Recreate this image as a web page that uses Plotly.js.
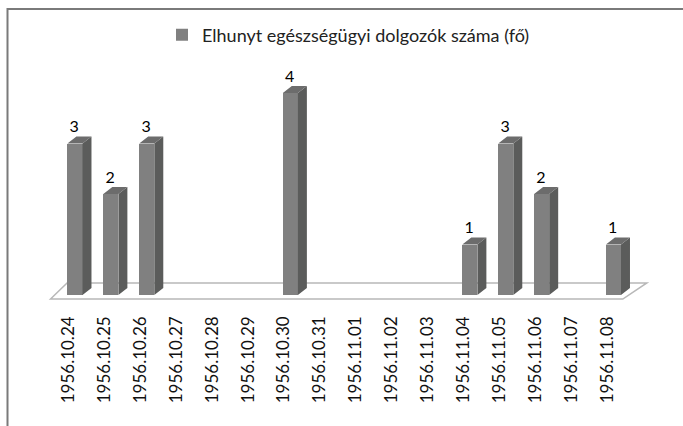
<!DOCTYPE html>
<html>
<head>
<meta charset="utf-8">
<script src="https://cdn.plot.ly/plotly-3.0.1.min.js"></script>
<style>html,body{margin:0;padding:0;background:#fff;}#chart{width:683px;height:426px;}</style>
</head>
<body>
<div id="chart"></div>
<script>
// ---- data ----
const dates = ["1956.10.24","1956.10.25","1956.10.26","1956.10.27","1956.10.28","1956.10.29","1956.10.30","1956.10.31","1956.11.01","1956.11.02","1956.11.03","1956.11.04","1956.11.05","1956.11.06","1956.11.07","1956.11.08"];
const deaths = [3,2,3,0,0,0,4,0,0,0,0,1,3,2,0,1];
const seriesName = "Elhunyt egészségügyi dolgozók száma (fő)";

// ---- geometry (style) ----
const idx = dates.map((d,i)=>i);
const FL = -0.03, FW = 0.42, DX = 0.25, DY = 0.14;
const FONT = "Lato, 'Open Sans', sans-serif";

const sideX = [], sideY = [], topX = [], topY = [];
idx.forEach(i => {
  const v = deaths[i];
  if (v <= 0) return;
  const l = i + FL, r = i + FL + FW;
  sideX.push(r, r, r+DX, r+DX, r, null);
  sideY.push(0, v, v+DY, DY, 0, null);
  topX.push(l, r, r+DX, l+DX, l, null);
  topY.push(v, v, v+DY, v+DY, v, null);
});
const lblX = [], lblY = [], lblT = [];
idx.forEach(i => { if (deaths[i] > 0) { lblX.push(i + FL + FW/2 - 0.02); lblY.push(deaths[i] + DY); lblT.push(String(deaths[i])); } });

const n = dates.length;
const floorPath = `M ${-0.5} ${-0.08} L ${-0.04} ${0.24} L ${n-1+1.11} ${0.24} L ${n-1+0.44} ${-0.08} Z`;

const traces = [
  { type: "bar", x: idx.map(i => i + FL + FW/2), y: deaths, width: FW,
    marker: { color: "#808080", line: { width: 0 } }, name: seriesName, showlegend: true, hoverinfo: "skip" },
  { type: "scatter", x: sideX, y: sideY, mode: "none", fill: "toself", fillcolor: "#5b5c5b", showlegend: false, hoverinfo: "skip" },
  { type: "scatter", x: topX, y: topY, mode: "none", fill: "toself", fillcolor: "#6c6c6c", showlegend: false, hoverinfo: "skip" },
  { type: "scatter", x: lblX, y: lblY, mode: "text", text: lblT, textposition: "top center",
    textfont: { family: FONT, size: 16, color: "#000" }, showlegend: false, hoverinfo: "skip" }
];

const PX = 35.9, C0 = 68.5;
const xa = -C0 / PX, xb = xa + 683 / PX;
const H = 312, Z = 295, PU = 50.5;

const layout = {
  width: 683, height: 426,
  margin: { l: 0, r: 0, t: 0, b: 426 - H },
  paper_bgcolor: "#fff", plot_bgcolor: "rgba(0,0,0,0)",
  xaxis: { range: [xa, xb], tickvals: idx, ticktext: dates, tickangle: -90, showgrid: false, zeroline: false, showline: false, ticks: "",
    tickfont: { family: FONT, size: 17, color: "#111" } },
  yaxis: { range: [-(H - Z) / PU, Z / PU], visible: false, showgrid: false, zeroline: false },
  showlegend: true,
  legend: { x: 162 / 683, xanchor: "left", y: 1 - 35 / H, yanchor: "middle", orientation: "h",
    font: { family: FONT, size: 18, color: "#222" }, bgcolor: "rgba(0,0,0,0)", itemwidth: 30 },
  shapes: [
    { type: "path", xref: "x", yref: "y", path: floorPath, line: { color: "#b8b8b8", width: 1.5 }, fillcolor: "#fff", layer: "below" },
    { type: "rect", xref: "paper", yref: "paper", x0: 7.5 / 683, x1: 1.2, y0: 1 - 9 / H, y1: -1, line: { color: "#7a7a7a", width: 2 }, fillcolor: "rgba(0,0,0,0)", layer: "above" }
  ],
  bargap: 0
};

Plotly.newPlot("chart", traces, layout, { displayModeBar: false, staticPlot: true });
</script>
</body>
</html>
